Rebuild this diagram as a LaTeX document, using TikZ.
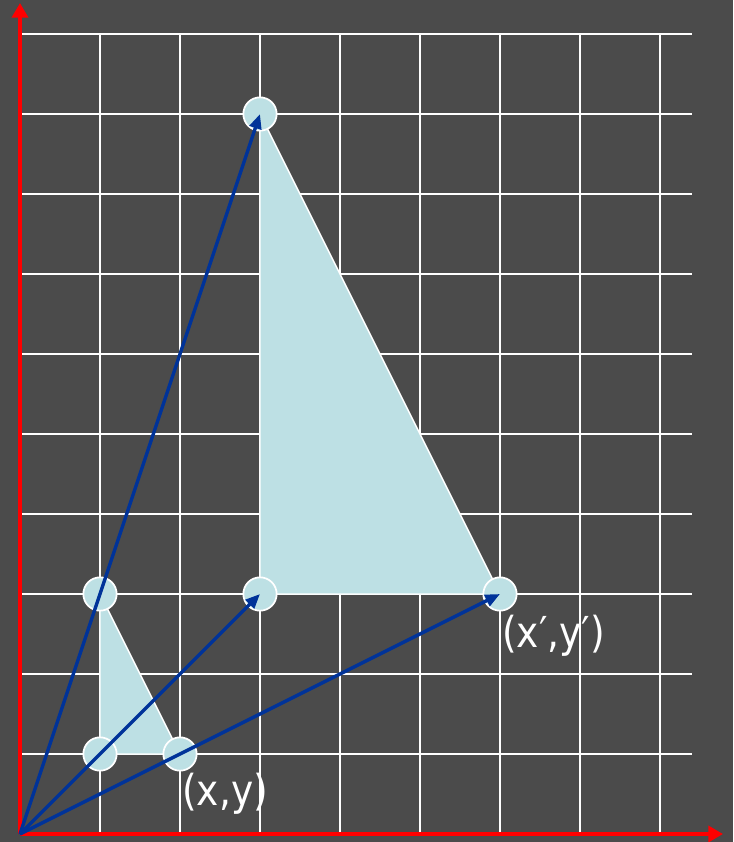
\documentclass[tikz,border=0pt]{standalone}
\usepackage{fontspec}
\setmainfont{DejaVu Sans}
\newfontfamily\lblfont[FakeStretch=0.88]{DejaVu Sans}
\usetikzlibrary{arrows.meta}
\definecolor{bgcol}{HTML}{4B4B4B}
\definecolor{tricol}{HTML}{BDE0E4}
\definecolor{veccol}{HTML}{003399}
\begin{document}
\begin{tikzpicture}[x=0.75pt,y=-0.75pt,
  gridline/.style={white,line width=1.5pt},
  axisline/.style={red,line width=2.6pt,-{Triangle[length=11pt,width=12pt]}},
  vertex/.style={circle,fill=tricol,draw=white,line width=1.3pt,minimum size=25pt,inner sep=0pt},
  trishape/.style={fill=tricol,draw=white,line width=1.1pt,line join=round},
  vecarrow/.style={veccol,line width=2.6pt,-{Triangle[length=11pt,width=9pt]}},
  lbl/.style={text=white,font=\lblfont\fontsize{32}{38}\selectfont,inner sep=0pt}]
\fill[bgcol] (0,0) rectangle (733,842);
\useasboundingbox (0,0) rectangle (733,842);
% grid
\foreach \y in {34,114,...,754} \draw[gridline] (20,\y) -- (692,\y);
\foreach \x in {100,180,...,660} \draw[gridline] (\x,34) -- (\x,834);
% triangles
\draw[trishape] (100,594) -- (100,754) -- (180,754) -- cycle;
\draw[trishape] (260,114) -- (260,594) -- (500,594) -- cycle;
% vertices
\node[vertex] (a) at (100,594) {};
\node[vertex] (b) at (100,754) {};
\node[vertex] (c) at (180,754) {};
\node[vertex] (A) at (260,114) {};
\node[vertex] (B) at (260,594) {};
\node[vertex] (C) at (500,594) {};
% axes
\coordinate (O) at (20,834);
\coordinate (xend) at (723,834);
\coordinate (yend) at (20,3);
\draw[axisline] (O) -- (xend);
\draw[axisline] (O) -- (yend);
% vectors
\draw[vecarrow] (O) -- (A.center);
\draw[vecarrow] (O) -- (B.center);
\draw[vecarrow] (O) -- (C.center);
% labels
\node[lbl,anchor=base west] (l1) at (182,805) {(x,y)};
\node[lbl,anchor=base west] (l2) at (502,647) {(x′,y′)};
\end{tikzpicture}
\end{document}
